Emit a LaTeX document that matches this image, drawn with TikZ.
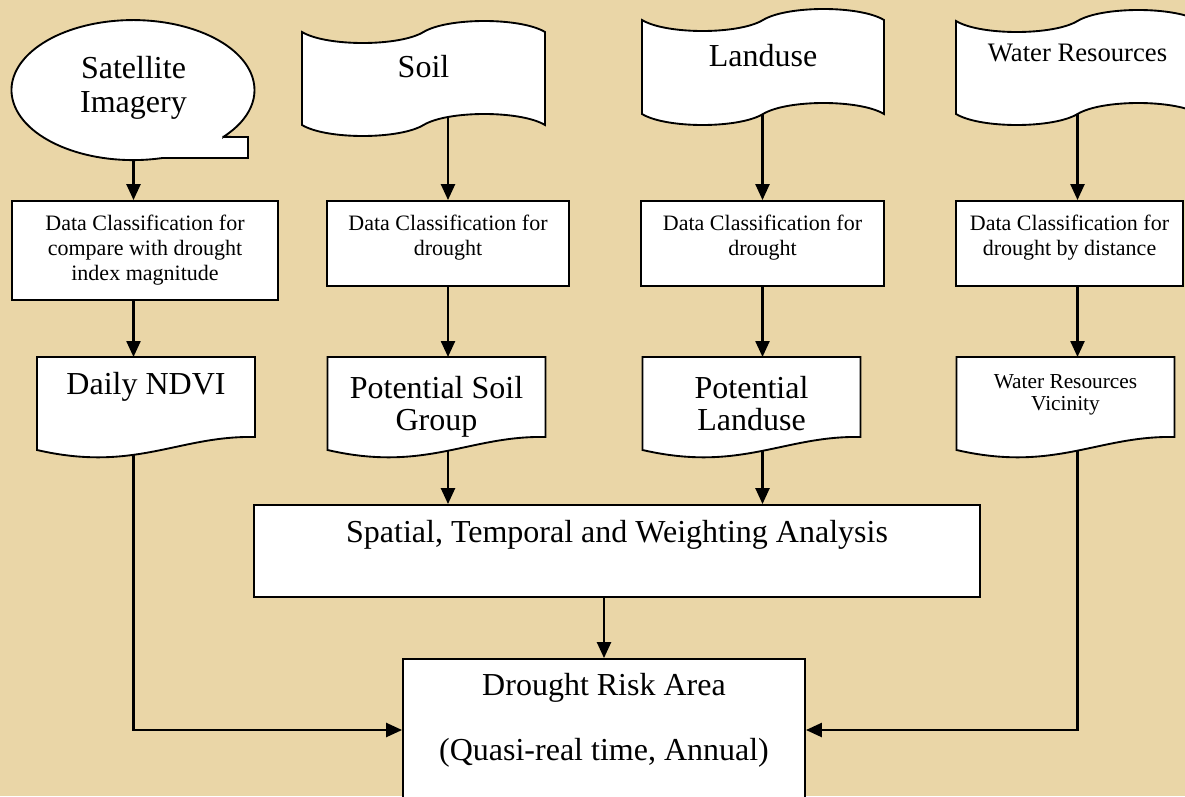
\documentclass[tikz,border=0pt]{standalone}
\usepackage{fontspec}
\setmainfont{Liberation Serif}
\usetikzlibrary{arrows.meta, calc}
\definecolor{paper}{RGB}{234,214,167}
\pgfdeclarelayer{paperlayer}
\pgfdeclarelayer{links}
\pgfdeclarelayer{outlines}
\pgfsetlayers{paperlayer,links,outlines,main}

% wavy outlines drawn round a holder node
\newcommand\tapeoutline[1]{%
  \filldraw[shp] let \p1=(#1.north west), \p2=(#1.south east), \n1={\x2-\x1} in
    (\x1,\y1) .. controls ({\x1+0.1*\n1},{\y1-11pt}) and ({\x1+0.4*\n1},{\y1-11pt}) .. ({\x1+0.5*\n1},\y1)
    .. controls ({\x1+0.6*\n1},{\y1+11pt}) and ({\x1+0.9*\n1},{\y1+11pt}) .. (\x2,\y1)
    -- (\x2,\y2)
    .. controls ({\x1+0.9*\n1},{\y2+11pt}) and ({\x1+0.6*\n1},{\y2+11pt}) .. ({\x1+0.5*\n1},\y2)
    .. controls ({\x1+0.4*\n1},{\y2-11pt}) and ({\x1+0.1*\n1},{\y2-11pt}) .. (\x1,\y2) -- cycle;}
\newcommand\docoutline[1]{%
  \filldraw[shp] let \p1=(#1.north west), \p2=(#1.south east), \n1={\x2-\x1} in
    (\x1,\y1) -- (\x2,\y1) -- (\x2,{\y2+9.75pt})
    .. controls ({\x2-0.35*\n1},{\y2+11pt}) and ({\x1+0.45*\n1},{\y2-17pt}) .. (\x1,\y2) -- cycle;}

\begin{document}
\begin{tikzpicture}[x=0.75pt, y=-0.75pt,
  shp/.style    = {draw, fill=white, line width=1.4pt},
  holder/.style = {inner sep=0pt, outer sep=0pt, align=center},
  big/.style    = {align=center, font=\fontsize{24}{24}\selectfont},
  dcbox/.style  = {draw, fill=white, line width=1.4pt, align=center, inner sep=0pt,
                   font=\fontsize{16.5}{18.75}\selectfont},
  bigbox/.style = {draw, fill=white, line width=1.4pt, align=center, inner sep=0pt,
                   font=\fontsize{24}{26}\selectfont},
  arr/.style    = {-{Triangle[length=12pt,width=10.5pt]}, line width=1.8pt}
]
\useasboundingbox (0,0) rectangle (1185,796);
\begin{pgfonlayer}{paperlayer}
  \fill[paper] (0,0) rectangle (1185,796);
\end{pgfonlayer}

% sources
\node[big, font=\fontsize{24}{25.5}\selectfont] (sat) at (133.5,88) {Satellite\\Imagery};
\node[holder, big, minimum width=182.25pt, minimum height=69.75pt, text depth=18.8pt] (soil) at (423.5,78.5) {Soil};
\node[holder, big, minimum width=181.5pt, minimum height=70.5pt, text depth=18pt] (land) at (763,67) {Landuse};
\node[holder, font=\fontsize{20}{22}\selectfont, minimum width=182.25pt, minimum height=69.75pt, text depth=22pt] (water) at (1077.5,67.5) {Water Resources};

% classification
\node[dcbox, minimum width=199.5pt, minimum height=74.25pt] (dcsat) at (145,250.5) {Data Classification for\\compare with drought\\index magnitude};
\node[dcbox, minimum width=181.5pt, minimum height=63.75pt, text depth=12.5pt] (dcsoil) at (448,243.5) {Data Classification for\\drought};
\node[dcbox, minimum width=182.25pt, minimum height=63.75pt, text depth=12.5pt] (dcland) at (762.5,243.5) {Data Classification for\\drought};
\node[dcbox, minimum width=170.25pt, minimum height=63.75pt, text depth=12.5pt] (dcwater) at (1069.5,243.5) {Data Classification for\\drought by distance};

% layers
\node[holder, big, minimum width=163.5pt, minimum height=69.75pt, text depth=30pt] (ndvi) at (146,403.5) {Daily NDVI};
\node[holder, big, minimum width=163.5pt, minimum height=69.75pt, text height=46pt] (psoil) at (436.5,403.5) {Potential Soil\\Group};
\node[holder, big, minimum width=163.5pt, minimum height=69.75pt] (pland) at (751.5,403.5) {Potential\\Landuse};
\node[holder, font=\fontsize{16}{16.5}\selectfont, minimum width=163.5pt, minimum height=69.75pt, text depth=16pt] (wvic) at (1065.5,403.5) {Water Resources\\Vicinity};

\node[bigbox, minimum width=544.5pt, minimum height=69pt, text depth=29pt] (swa) at (617,551) {Spatial, Temporal and Weighting Analysis};
\node[bigbox, font=\fontsize{24}{48.75}\selectfont, minimum width=301.5pt, minimum height=106.5pt, text depth=20pt] (risk) at (604,730) {Drought Risk Area\\(Quasi-real time, Annual)};

\begin{pgfonlayer}{outlines}
  \filldraw[shp] (223.3,136.9) -- (248,137) -- (248,158) -- (162.4,158)
    arc[start angle=76, end angle=402, x radius=121.5, y radius=70] -- cycle;
  \tapeoutline{soil}
  \tapeoutline{land}
  \tapeoutline{water}
  \docoutline{ndvi}
  \docoutline{psoil}
  \docoutline{pland}
  \docoutline{wvic}
\end{pgfonlayer}

\begin{pgfonlayer}{links}
  \draw[arr] (sat) -- (sat |- dcsat.north);
  \draw[arr] (sat |- dcsat.south) -- (sat |- ndvi.north);
  \draw[arr] (dcsoil.north |- soil) -- (dcsoil.north);
  \draw[arr] (dcsoil) -- (dcsoil |- psoil.north);
  \draw[arr] (dcsoil |- psoil) -- (dcsoil |- swa.north);
  \draw[arr] (dcland.north |- land) -- (dcland.north);
  \draw[arr] (dcland) -- (dcland |- pland.north);
  \draw[arr] (dcland |- pland) -- (dcland |- swa.north);
  \draw[arr] (water) -- (water |- dcwater.north);
  \draw[arr] (water |- dcwater.south) -- (water |- wvic.north);
  \draw[arr] (risk |- swa) -- (risk.north);
  \draw[arr] (sat |- ndvi) |- (risk.west);
  \draw[arr] (water |- wvic) |- (risk.east);
\end{pgfonlayer}
\end{tikzpicture}
\end{document}
